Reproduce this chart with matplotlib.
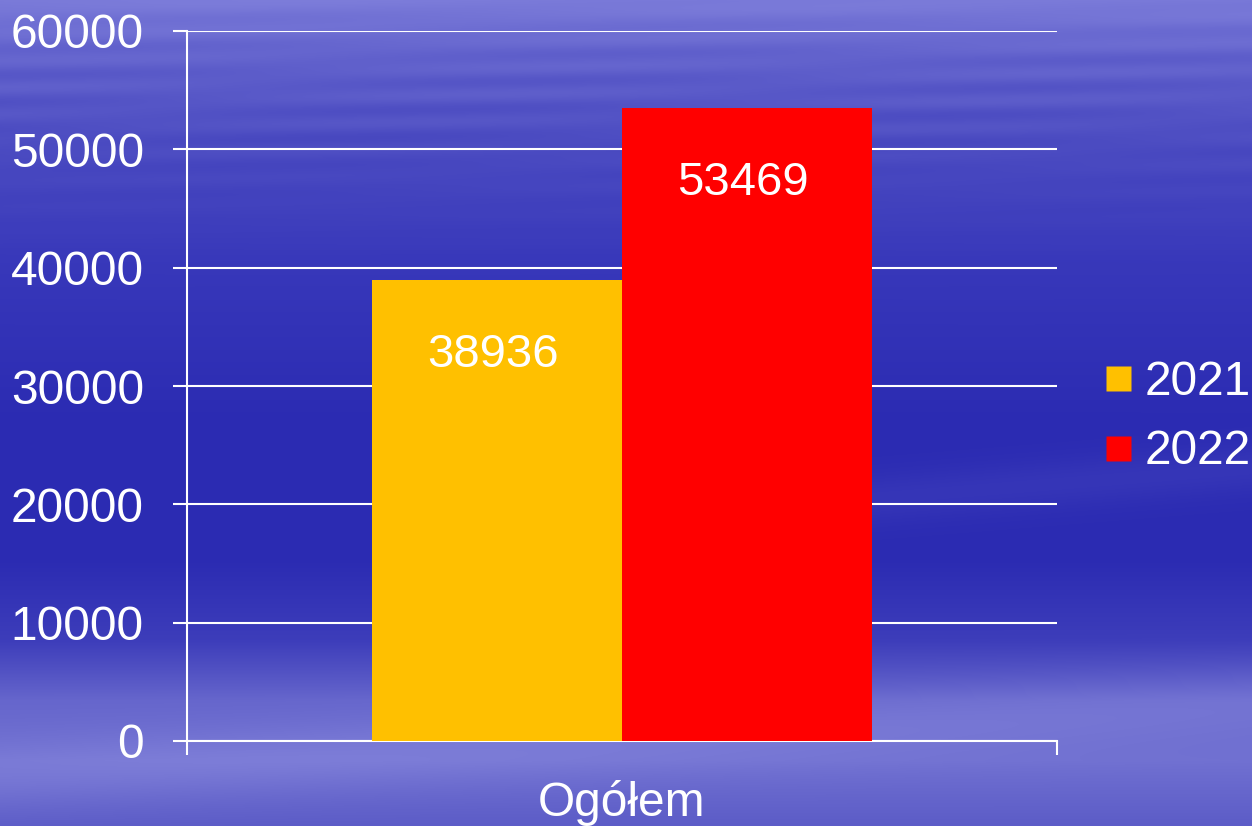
import numpy as np
import matplotlib
matplotlib.use("Agg")
import matplotlib.pyplot as plt
from matplotlib.lines import Line2D
from matplotlib.ticker import FixedLocator

categories = ["Ogółem"]
series_names = ["2021", "2022"]
values_2021 = [38936]
values_2022 = [53469]
yticks = [0, 10000, 20000, 30000, 40000, 50000, 60000]
colors = ["#FFC000", "#FF0000"]

plt.rcParams['font.family'] = ['Liberation Sans', 'DejaVu Sans']

W, H = 1252, 826
fig = plt.figure(figsize=(W / 100, H / 100), dpi=100)

# background texture (decorative)
bg = fig.add_axes([0, 0, 1, 1], zorder=0)
yy, xx = np.mgrid[0:H, 0:W]
ys = np.array([0, 60, 140, 260, 420, 560, 640, 700, 760, 826])
rs = np.array([0.48, 0.38, 0.30, 0.22, 0.17, 0.17, 0.24, 0.40, 0.44, 0.36])
gs = rs.copy()
bs = np.array([0.85, 0.80, 0.76, 0.73, 0.70, 0.70, 0.73, 0.80, 0.82, 0.78])
r = np.interp(yy, ys, rs)
g = np.interp(yy, ys, gs)
b = np.interp(yy, ys, bs)
streak = (0.025 * np.sin(yy / 4.3 + xx / 300.0) * np.sin(xx / 170.0 + yy / 50.0) * np.exp(-((yy - 90) / 90.0) ** 2)
          + 0.05 * np.exp(-((yy - 740 + 0.06 * (xx - 600)) / 35.0) ** 2)
          + 0.04 * np.exp(-((yy - 480 + 0.08 * (xx - 1100)) / 25.0) ** 2) * (xx > 850))
r = np.clip(r + streak, 0, 1)
g = np.clip(g + streak, 0, 1)
b = np.clip(b + streak * 0.5, 0, 1)
bg.imshow(np.dstack([r, g, b]), aspect='auto', extent=[0, 1, 0, 1], interpolation='bilinear')
bg.axis('off')

ax = fig.add_axes([187 / W, 1 - 741 / H, 870 / W, 710 / H], zorder=1)
ax.patch.set_alpha(0)

x = np.arange(len(categories))
bw = 250 / 870
b1 = ax.bar(x - bw / 2, values_2021, bw, color=colors[0], label=series_names[0], zorder=3)
b2 = ax.bar(x + bw / 2, values_2022, bw, color=colors[1], label=series_names[1], zorder=3)

for bars in (b1, b2):
    for rect in bars:
        h = rect.get_height()
        ax.annotate(f"{int(h)}", (rect.get_x() + rect.get_width() / 2, h),
                    xytext=(-3, -54), textcoords='offset points',
                    ha='center', va='center', color='white', fontsize=34, zorder=4)

ax.set_xlim(-0.5, 0.5)
ax.set_ylim(0, 60000)
ax.set_yticks(yticks)
ax.set_yticklabels([str(t) for t in yticks])
ax.set_xticks(x)
ax.set_xticklabels(categories)
ax.xaxis.set_minor_locator(FixedLocator([-0.5, 0.5]))

ax.grid(axis='y', color='white', linewidth=1.5, zorder=1)
ax.set_axisbelow(True)
for s in ['top', 'right']:
    ax.spines[s].set_visible(False)
for s in ['left', 'bottom']:
    ax.spines[s].set_color('white')
    ax.spines[s].set_linewidth(1.5)

ax.tick_params(axis='y', colors='white', labelsize=34.5, length=10, width=1.5, pad=21)
ax.tick_params(axis='x', which='major', colors='white', labelsize=34.5, length=0, pad=28)
ax.tick_params(axis='x', which='minor', colors='white', length=10, width=1.5)

handles = [Line2D([], [], marker='s', linestyle='none', markersize=18,
                  markerfacecolor=c, markeredgecolor='none') for c in colors]
leg = fig.legend(handles, series_names, loc='center left', bbox_to_anchor=(1094 / W, 1 - 417 / H),
                 frameon=False, fontsize=34.5, handlelength=1.0, handletextpad=0.05,
                 labelspacing=0.52, borderpad=0, borderaxespad=0)
for t in leg.get_texts():
    t.set_color('white')

fig.savefig("out.png", dpi=100)
